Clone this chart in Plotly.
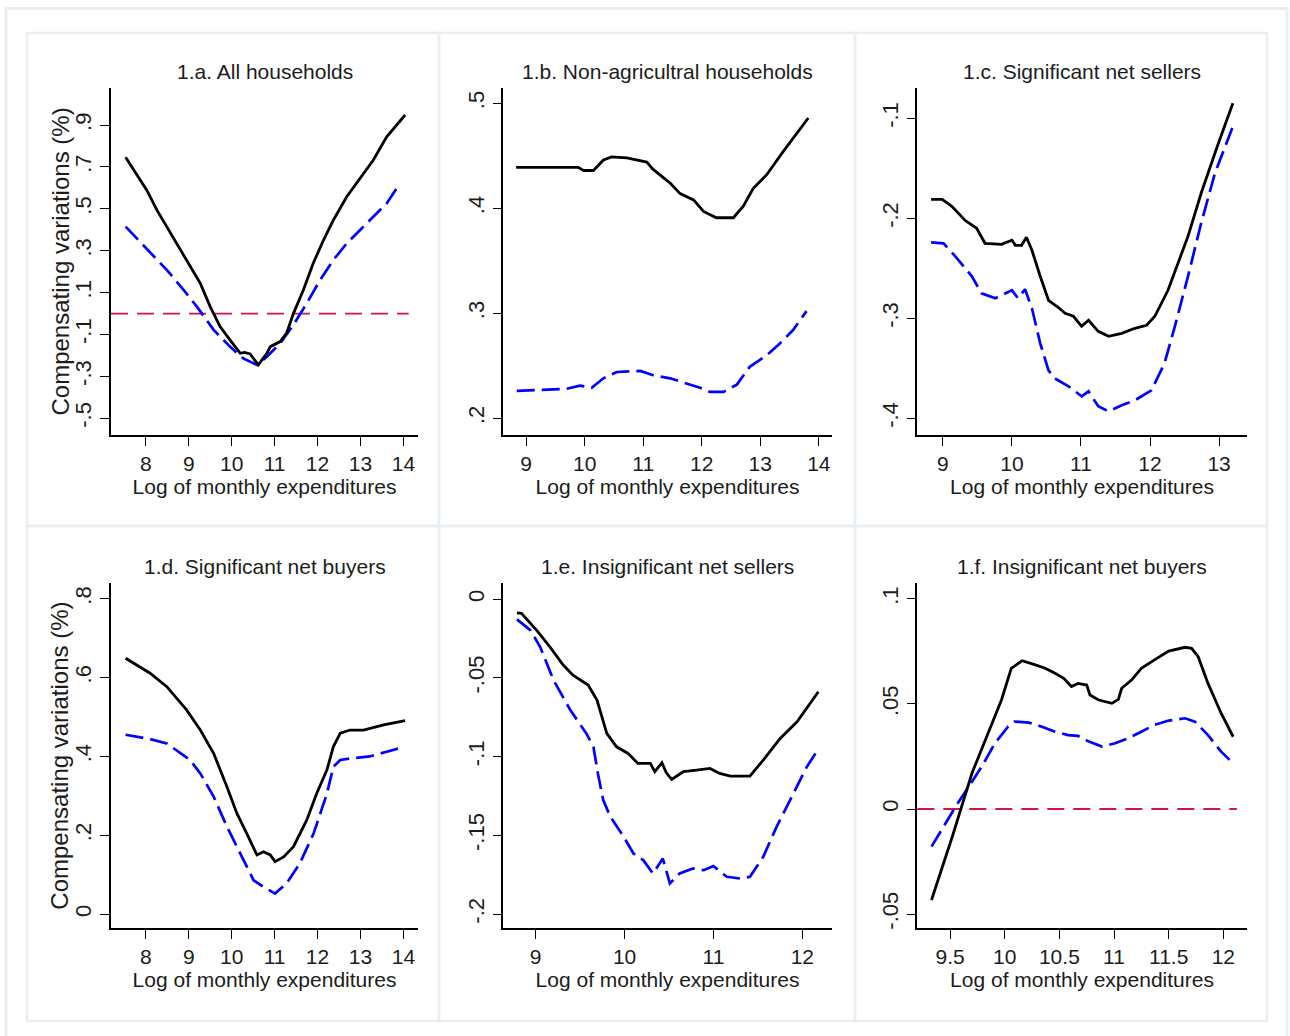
import plotly.graph_objects as go

# ---------------- data ----------------
titles = ["1.a. All households", "1.b. Non-agricultral households", "1.c. Significant net sellers",
          "1.d. Significant net buyers", "1.e. Insignificant net sellers", "1.f. Insignificant net buyers"]

a_black_x = [7.53, 8.02, 8.26, 8.72, 8.95, 9.27, 9.5, 9.73, 9.96, 10.2, 10.3, 10.43, 10.62, 10.82, 10.9, 11.13, 11.28, 11.44, 11.67, 11.9, 12.14, 12.37, 12.68, 12.99, 13.3, 13.61, 14.04]
a_black_y = [0.746, 0.59, 0.494, 0.335, 0.256, 0.144, 0.033, -0.062, -0.126, -0.19, -0.186, -0.193, -0.245, -0.19, -0.158, -0.134, -0.094, 0.001, 0.112, 0.24, 0.351, 0.447, 0.558, 0.645, 0.733, 0.844, 0.948]
a_blue_x = [7.53, 8.02, 8.49, 8.88, 9.19, 9.58, 9.96, 10.27, 10.59, 10.82, 11.13, 11.44, 11.75, 12.06, 12.37, 12.68, 12.99, 13.3, 13.61, 13.92]
a_blue_y = [0.415, 0.311, 0.208, 0.113, 0.033, -0.078, -0.158, -0.214, -0.245, -0.206, -0.142, -0.054, 0.049, 0.16, 0.256, 0.335, 0.399, 0.463, 0.526, 0.622]

b_black_x = [8.83, 9.89, 9.98, 10.15, 10.32, 10.46, 10.72, 11.06, 11.17, 11.34, 11.46, 11.63, 11.86, 12.03, 12.25, 12.54, 12.71, 12.88, 13.11, 13.39, 13.62, 13.82]
b_black_y = [0.439, 0.439, 0.436, 0.436, 0.446, 0.449, 0.448, 0.444, 0.437, 0.429, 0.424, 0.414, 0.408, 0.397, 0.391, 0.391, 0.402, 0.419, 0.432, 0.454, 0.471, 0.486]
b_blue_x = [8.84, 9.69, 9.92, 10.12, 10.32, 10.55, 10.95, 11.17, 11.46, 11.74, 11.97, 12.14, 12.37, 12.6, 12.82, 13.11, 13.33, 13.56, 13.79]
b_blue_y = [0.226, 0.228, 0.231, 0.229, 0.238, 0.244, 0.245, 0.241, 0.238, 0.233, 0.229, 0.225, 0.225, 0.232, 0.249, 0.26, 0.271, 0.284, 0.302]

c_black_x = [8.83, 8.99, 9.13, 9.32, 9.49, 9.61, 9.85, 10.0, 10.05, 10.14, 10.21, 10.29, 10.41, 10.53, 10.67, 10.77, 10.89, 11.01, 11.11, 11.25, 11.4, 11.59, 11.78, 11.95, 12.07, 12.26, 12.55, 12.74, 12.99, 13.2]
c_black_y = [-0.181, -0.181, -0.188, -0.202, -0.21, -0.225, -0.226, -0.222, -0.227, -0.227, -0.219, -0.232, -0.258, -0.282, -0.289, -0.295, -0.298, -0.308, -0.302, -0.313, -0.318, -0.315, -0.31, -0.307, -0.298, -0.272, -0.218, -0.175, -0.125, -0.085]
c_blue_x = [8.83, 9.01, 9.18, 9.42, 9.56, 9.76, 10.0, 10.09, 10.19, 10.29, 10.41, 10.53, 10.62, 10.82, 11.01, 11.11, 11.25, 11.4, 11.59, 11.78, 12.02, 12.21, 12.36, 12.55, 12.74, 12.94, 13.2]
c_blue_y = [-0.224, -0.225, -0.238, -0.258, -0.275, -0.28, -0.272, -0.28, -0.271, -0.29, -0.325, -0.352, -0.36, -0.368, -0.378, -0.373, -0.388, -0.393, -0.387, -0.382, -0.372, -0.345, -0.308, -0.258, -0.205, -0.155, -0.108]

d_black_x = [7.53, 8.1, 8.49, 8.95, 9.27, 9.58, 9.89, 10.12, 10.35, 10.59, 10.74, 10.9, 11.01, 11.21, 11.44, 11.75, 11.98, 12.22, 12.37, 12.53, 12.76, 13.07, 13.54, 14.04]
d_black_y = [0.649, 0.611, 0.577, 0.518, 0.467, 0.408, 0.323, 0.256, 0.205, 0.15, 0.158, 0.15, 0.133, 0.145, 0.171, 0.239, 0.306, 0.366, 0.425, 0.459, 0.467, 0.467, 0.48, 0.491]
d_blue_x = [7.53, 8.1, 8.49, 9.03, 9.27, 9.58, 9.89, 10.2, 10.51, 10.74, 11.01, 11.28, 11.59, 11.91, 12.22, 12.37, 12.53, 12.76, 13.22, 13.61, 13.92]
d_blue_y = [0.455, 0.444, 0.433, 0.391, 0.357, 0.298, 0.222, 0.154, 0.086, 0.069, 0.052, 0.078, 0.129, 0.205, 0.306, 0.374, 0.391, 0.395, 0.4, 0.412, 0.421]

e_black_x = [8.79, 8.84, 9.01, 9.16, 9.31, 9.42, 9.59, 9.69, 9.8, 9.91, 10.04, 10.15, 10.29, 10.34, 10.42, 10.47, 10.53, 10.66, 10.81, 10.96, 11.07, 11.19, 11.41, 11.56, 11.75, 11.94, 12.18]
e_black_y = [-0.0087, -0.009, -0.0197, -0.0303, -0.0419, -0.0483, -0.0546, -0.0641, -0.0853, -0.0938, -0.098, -0.1043, -0.1043, -0.1096, -0.1039, -0.1103, -0.1145, -0.1096, -0.1086, -0.1075, -0.1107, -0.1124, -0.1124, -0.1022, -0.0885, -0.0779, -0.0588]
e_blue_x = [8.79, 8.94, 9.05, 9.2, 9.39, 9.57, 9.65, 9.7, 9.76, 9.84, 9.99, 10.1, 10.21, 10.32, 10.43, 10.51, 10.62, 10.77, 10.89, 11.0, 11.15, 11.3, 11.41, 11.56, 11.71, 11.9, 12.05, 12.16]
e_blue_y = [-0.0129, -0.0197, -0.0303, -0.0514, -0.0705, -0.0853, -0.0938, -0.1107, -0.1276, -0.1382, -0.1509, -0.1615, -0.1657, -0.1742, -0.1647, -0.1805, -0.1742, -0.171, -0.1721, -0.1695, -0.1763, -0.1774, -0.1763, -0.1636, -0.1446, -0.1234, -0.1065, -0.0969]

f_black_x = [9.33, 9.52, 9.7, 9.85, 9.97, 10.06, 10.16, 10.28, 10.37, 10.46, 10.54, 10.61, 10.67, 10.75, 10.78, 10.86, 10.98, 11.04, 11.07, 11.16, 11.25, 11.37, 11.5, 11.65, 11.71, 11.77, 11.86, 11.98, 12.09]
f_black_y = [-0.0433, -0.0132, 0.017, 0.036, 0.0519, 0.067, 0.0706, 0.0686, 0.067, 0.0646, 0.0622, 0.0583, 0.0598, 0.059, 0.0543, 0.0519, 0.0503, 0.0522, 0.0575, 0.0614, 0.067, 0.071, 0.0752, 0.077, 0.0765, 0.0725, 0.0598, 0.0456, 0.0344]
f_blue_x = [9.33, 9.42, 9.55, 9.67, 9.79, 9.91, 10.03, 10.09, 10.22, 10.34, 10.46, 10.58, 10.67, 10.77, 10.89, 11.01, 11.13, 11.25, 11.37, 11.5, 11.65, 11.74, 11.86, 11.98, 12.09]
f_blue_y = [-0.0179, -0.01, 0.0011, 0.0106, 0.0202, 0.0313, 0.0392, 0.0416, 0.0411, 0.0392, 0.0368, 0.0352, 0.0348, 0.0321, 0.0297, 0.0313, 0.0337, 0.0368, 0.04, 0.0421, 0.0432, 0.0416, 0.0352, 0.0273, 0.0217]

x_ranges = [[7.19, 14.34], [8.61, 14.22], [8.63, 13.40], [7.19, 14.34], [8.636, 12.33], [9.2, 12.214]]
y_ranges = [[-0.58, 1.077], [0.184, 0.5146], [-0.4167, -0.0697], [-0.036, 0.84], [-0.209, 0.0102], [-0.0568, 0.1076]]

x_tickvals = [[8, 9, 10, 11, 12, 13, 14], [9, 10, 11, 12, 13, 14], [9, 10, 11, 12, 13],
              [8, 9, 10, 11, 12, 13, 14], [9, 10, 11, 12], [9.5, 10, 10.5, 11, 11.5, 12]]
x_ticktext = [["8", "9", "10", "11", "12", "13", "14"], ["9", "10", "11", "12", "13", "14"], ["9", "10", "11", "12", "13"],
              ["8", "9", "10", "11", "12", "13", "14"], ["9", "10", "11", "12"], ["9.5", "10", "10.5", "11", "11.5", "12"]]
y_tickvals = [[-0.5, -0.3, -0.1, 0.1, 0.3, 0.5, 0.7, 0.9], [0.2, 0.3, 0.4, 0.5], [-0.4, -0.3, -0.2, -0.1],
              [0, 0.2, 0.4, 0.6, 0.8], [-0.2, -0.15, -0.1, -0.05, 0], [-0.05, 0, 0.05, 0.1]]
y_ticktext = [["-.5", "-.3", "-.1", ".1", ".3", ".5", ".7", ".9"], [".2", ".3", ".4", ".5"], ["-.4", "-.3", "-.2", "-.1"],
              ["0", ".2", ".4", ".6", ".8"], ["-.2", "-.15", "-.1", "-.05", "0"], ["-.05", "0", ".05", ".1"]]
zero_line_panels = [0, 5]

x_title = "Log of monthly expenditures"
y_title = "Compensating variations (%)"

blacks = [(a_black_x, a_black_y), (b_black_x, b_black_y), (c_black_x, c_black_y),
          (d_black_x, d_black_y), (e_black_x, e_black_y), (f_black_x, f_black_y)]
blues = [(a_blue_x, a_blue_y), (b_blue_x, b_blue_y), (c_blue_x, c_blue_y),
         (d_blue_x, d_blue_y), (e_blue_x, e_blue_y), (f_blue_x, f_blue_y)]

# ---------------- layout geometry (pixels) ----------------
W, H = 1290, 1036
col_px = [(111, 418), (503.3, 831.7), (917.3, 1246.7)]
row_px = [(88, 435), (583, 928.3)]
FONT = "Liberation Sans, Arial, sans-serif"
FS = 21
FS_YT = 22
FS_YTITLE = 24
TXT = "#1c1c1c"

def px_x(p):
    return p / W

def px_y(p):
    return 1 - p / H

fig = go.Figure()
layout = dict(width=W, height=H, margin=dict(l=0, r=0, t=0, b=0),
              paper_bgcolor="white", plot_bgcolor="white", showlegend=False,
              font=dict(family=FONT, size=FS, color=TXT))
shapes = []
annotations = []

for i in range(6):
    r, c = divmod(i, 3)
    n = "" if i == 0 else str(i + 1)
    xa, ya = "x" + n, "y" + n
    bx, by = blacks[i]
    ux, uy = blues[i]
    fig.add_trace(go.Scatter(x=ux, y=uy, mode="lines", xaxis=xa, yaxis=ya,
                             line=dict(color="#0000ff", width=2.7, dash="18px,7px")))
    fig.add_trace(go.Scatter(x=bx, y=by, mode="lines", xaxis=xa, yaxis=ya,
                             line=dict(color="black", width=2.8)))
    x0, x1 = col_px[c]
    y0, y1 = row_px[r]
    layout["xaxis" + n] = dict(
        domain=[px_x(x0), px_x(x1)], anchor=ya, range=x_ranges[i],
        showline=True, linecolor="black", linewidth=1.6, mirror=False,
        ticks="outside", ticklen=9, tickwidth=1.4, tickcolor="black",
        tickvals=x_tickvals[i], ticktext=x_ticktext[i], showgrid=False, zeroline=False,
        tickfont=dict(family=FONT, size=FS, color=TXT),
        title=dict(text=x_title, font=dict(family=FONT, size=FS, color=TXT), standoff=2))
    layout["yaxis" + n] = dict(
        domain=[px_y(y1), px_y(y0)], anchor=xa, range=y_ranges[i],
        showline=True, linecolor="black", linewidth=1.6, mirror=False,
        ticks="outside", ticklen=9, tickwidth=1.4, tickcolor="black",
        tickvals=y_tickvals[i], ticktext=y_ticktext[i], tickangle=-90,
        showgrid=False, zeroline=False,
        tickfont=dict(family=FONT, size=FS_YT, color=TXT))
    if c == 0:
        annotations.append(dict(text=y_title, x=px_x(60), y=px_y((y0 + y1) / 2),
                                xref="paper", yref="paper", showarrow=False, textangle=-90,
                                xanchor="center", yanchor="middle",
                                font=dict(family=FONT, size=FS_YTITLE, color=TXT)))
    annotations.append(dict(text=titles[i], x=(px_x(x0) + px_x(x1)) / 2, y=px_y(y0 - 17),
                            xref="paper", yref="paper", showarrow=False, xanchor="center", yanchor="middle",
                            font=dict(family=FONT, size=FS, color=TXT)))
    if i in zero_line_panels:
        shapes.append(dict(type="line", xref=xa + " domain", yref=ya, x0=0, x1=0.97, y0=0, y1=0,
                           line=dict(color="#d3124a", width=1.8, dash="17px,9px"), layer="below"))

# panel frames
frame_col = "#e8eef1"
cols_b = [27, 439, 855, 1267]
rows_b = [33, 526, 1021]
for r in range(2):
    for c in range(3):
        shapes.append(dict(type="rect", xref="paper", yref="paper",
                           x0=px_x(cols_b[c]), x1=px_x(cols_b[c + 1]),
                           y0=px_y(rows_b[r + 1]), y1=px_y(rows_b[r]),
                           line=dict(color=frame_col, width=2.5), layer="below"))
shapes.append(dict(type="rect", xref="paper", yref="paper",
                   x0=px_x(6), x1=px_x(1287), y0=px_y(1040), y1=px_y(8.5),
                   line=dict(color=frame_col, width=3), layer="below"))

layout["shapes"] = shapes
layout["annotations"] = annotations
fig.update_layout(**layout)
fig.write_html("out.html")
